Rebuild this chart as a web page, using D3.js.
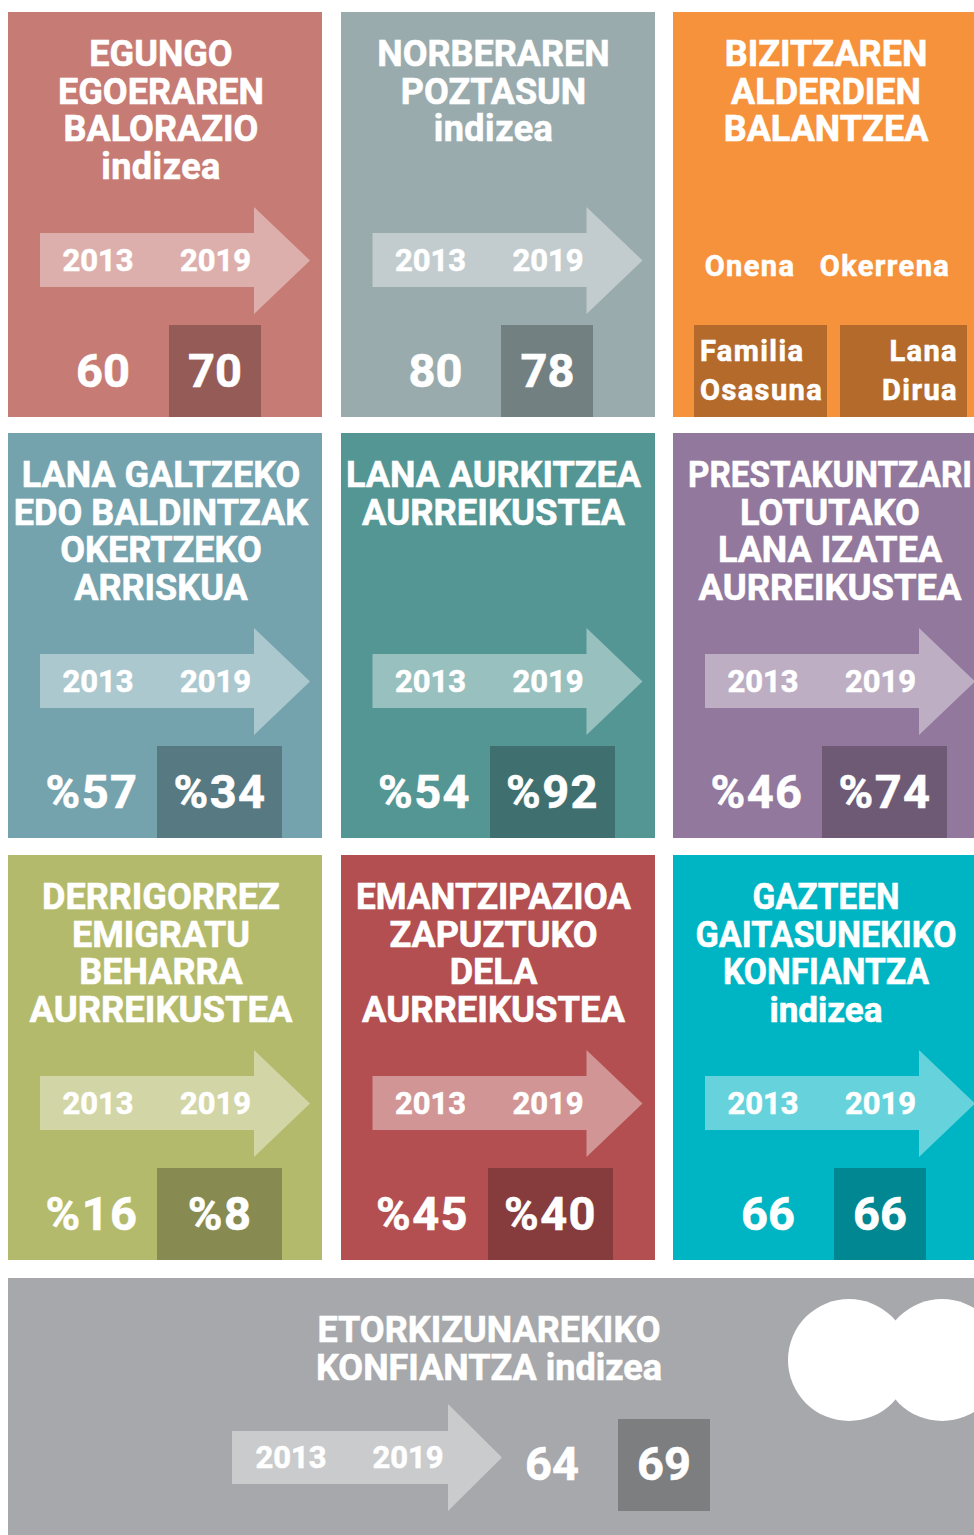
<!DOCTYPE html>
<html>
<head>
<meta charset="utf-8">
<script src="https://d3js.org/d3.v7.min.js"></script>
<style>
  body { margin: 0; background: #fff; }
  svg { display: block; }
  rect { shape-rendering: crispEdges; }
  text { font-family: Roboto, sans-serif; font-weight: 700; fill: #fff; stroke: #fff; stroke-width: 0.6px; text-anchor: middle; }
</style>
</head>
<body>
<div id="chart"></div>
<script>
// Data
var titles = [
  ["EGUNGO", "EGOERAREN", "BALORAZIO", "indizea"],
  ["NORBERAREN", "POZTASUN", "indizea"],
  ["BIZITZAREN", "ALDERDIEN", "BALANTZEA"],
  ["LANA GALTZEKO", "EDO BALDINTZAK", "OKERTZEKO", "ARRISKUA"],
  ["LANA AURKITZEA", "AURREIKUSTEA"],
  ["PRESTAKUNTZARI", "LOTUTAKO", "LANA IZATEA", "AURREIKUSTEA"],
  ["DERRIGORREZ", "EMIGRATU", "BEHARRA", "AURREIKUSTEA"],
  ["EMANTZIPAZIOA", "ZAPUZTUKO", "DELA", "AURREIKUSTEA"],
  ["GAZTEEN", "GAITASUNEKIKO", "KONFIANTZA", "indizea"]
];
var values2013 = ["60", "80", null, "%57", "%54", "%46", "%16", "%45", "66"];
var values2019 = ["70", "78", null, "%34", "%92", "%74", "%8", "%40", "66"];
var years = ["2013", "2019"];
var balanceHeads = ["Onena", "Okerrena"];
var balanceBest = ["Familia", "Osasuna"];
var balanceWorst = ["Lana", "Dirua"];
var futureTitle = ["ETORKIZUNAREKIKO", "KONFIANTZA indizea"];
var future2013 = "64";
var future2019 = "69";
var panelColors = ["#c77b75", "#9aabad", "#f7923c", "#74a3ae", "#549694", "#93789d", "#b4ba6c", "#b34f50", "#00b5c3"];
var futureColor = "#a7a8ab";

var svgWidth = 974;
var svgHeight = 1535;
var panelW = 314;
var panelH = 405;

// the original squeezes some title lines to fit, so force those widths
var fittedWidths = {
  "GAZTEEN": 147,
  "GAITASUNEKIKO": 261,
  "KONFIANTZA": 206,
  "PRESTAKUNTZARI": 284,
  "EMANTZIPAZIOA": 275,
  "AURREIKUSTEA": 263
};

var svg = d3.select("#chart")
  .append("svg")
  .attr("width", svgWidth)
  .attr("height", svgHeight);

var colScale = d3.scaleOrdinal().domain([0, 1, 2]).range([8, 340.5, 673]);
var rowScale = d3.scaleOrdinal().domain([0, 1, 2]).range([12, 433, 855]);

// arrow shape, relative to its own left end and top of the head
function arrowPath(w, head, shaftTop, shaftBottom, h) {
  return `M0,${shaftTop}H${w - head}V0L${w},${h / 2}L${w - head},${h}V${shaftBottom}H0Z`;
}

function addLines(g, lines, x, y, size, step, spacing) {
  return g.selectAll(null)
    .data(lines)
    .enter()
    .append("text")
    .attr("x", x)
    .attr("y", (d, i) => y + i * step)
    .attr("font-size", size)
    .attr("letter-spacing", spacing || 0)
    .text(d => d);
}

var panels = svg.selectAll("g.panel")
  .data(titles)
  .enter()
  .append("g")
  .attr("class", "panel")
  .attr("transform", (d, i) => `translate(${colScale(i % 3)},${rowScale(Math.floor(i / 3))})`);

panels.append("rect")
  .attr("width", panelW)
  .attr("height", panelH)
  .attr("fill", (d, i) => panelColors[i]);

panels.each(function(d, i) {
  var g = d3.select(this);
  var titleX = i === 5 ? 157 : 153;
  addLines(g, d, titleX, 54.4, 36, 37.4)
    .attr("letter-spacing", t => (t === "indizea" && i !== 8) ? 0.5 : 0)
    .attr("font-size", t => (t === "indizea" && i === 8) ? 35 : 36)
    .filter(t => fittedWidths[t])
    .attr("textLength", t => fittedWidths[t])
    .attr("lengthAdjust", "spacingAndGlyphs");

  if (values2013[i] === null) {
    // balance panel has no arrow
    addLines(g, [balanceHeads[0]], 77, 264, 29, 0, 1.4);
    addLines(g, [balanceHeads[1]], 212, 264, 29, 0, 1.4);
    g.append("rect").attr("x", 21).attr("y", 313).attr("width", 133).attr("height", 92).attr("fill", "#000").attr("opacity", 0.27);
    g.append("rect").attr("x", 167).attr("y", 313).attr("width", 127).attr("height", 92).attr("fill", "#000").attr("opacity", 0.27);
    addLines(g, balanceBest, 27, 348.5, 29, 39.5, 1.4).style("text-anchor", "start");
    addLines(g, balanceWorst, 285, 348.5, 29, 39.5, 1.4).style("text-anchor", "end");
    return;
  }

  g.append("path")
    .attr("transform", "translate(32,195)")
    .attr("d", arrowPath(270, 56, 26, 80, 107))
    .attr("fill", "#fff")
    .attr("opacity", 0.4);
  addLines(g, [years[0]], 90, 259, 31, 0);
  addLines(g, [years[1]], 207.5, 259, 31, 0);

  var isPct = values2013[i][0] === "%";
  var boxW = isPct ? 125 : 92;
  var shift = i === 7 ? -2 : 0;
  var boxCx = (isPct ? 211.5 : 206.5) + shift;
  g.append("rect")
    // keep the box on whole pixels in the half-pixel middle column
    .attr("x", Math.round(colScale(i % 3) + boxCx - boxW / 2) - colScale(i % 3))
    .attr("y", 313)
    .attr("width", boxW)
    .attr("height", 92)
    .attr("fill", "#000")
    .attr("opacity", 0.25);
  var spacing = isPct ? 1.5 : 0;
  addLines(g, [values2013[i]], (isPct ? 84 : 95) + shift, 375, 47, 0, spacing);
  addLines(g, [values2019[i]], boxCx + 0.5, 375, 47, 0, spacing);
});

// bottom panel
var future = svg.append("g").attr("transform", "translate(8,1278)");
future.append("rect")
  .attr("width", 966)
  .attr("height", 257)
  .attr("fill", futureColor);
future.selectAll("circle")
  .data([841, 934])
  .enter()
  .append("circle")
  .attr("cx", d => d)
  .attr("cy", 82)
  .attr("r", 61)
  .attr("fill", "#fff");
addLines(future, futureTitle, 481, 64, 36, 37.6);
future.append("path")
  .attr("transform", "translate(224,126)")
  .attr("d", arrowPath(270, 54, 27, 80, 107))
  .attr("fill", "#fff")
  .attr("opacity", 0.4);
addLines(future, [years[0]], 283, 190, 31, 0);
addLines(future, [years[1]], 400, 190, 31, 0);
future.append("rect")
  .attr("x", 610)
  .attr("y", 141)
  .attr("width", 92)
  .attr("height", 92)
  .attr("fill", "#000")
  .attr("opacity", 0.25);
addLines(future, [future2013], 544, 202, 47, 0);
addLines(future, [future2019], 656, 202, 47, 0);
</script>
</body>
</html>
